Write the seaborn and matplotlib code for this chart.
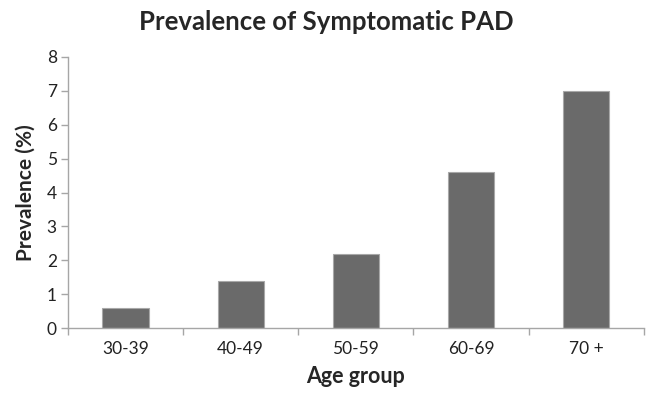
import numpy as np
import matplotlib
matplotlib.use('Agg')
import matplotlib.pyplot as plt
import pandas as pd
import seaborn as sns

age_groups = ['30-39', '40-49', '50-59', '60-69', '70 +']
prevalence = [0.6, 1.4, 2.2, 4.6, 7.0]

sns.set_style('white')
plt.rcParams['font.family'] = ['Lato', 'DejaVu Sans']

df = pd.DataFrame({'age': age_groups, 'prev': prevalence})

fig = plt.figure(figsize=(6.47, 3.93), dpi=100)
ax = fig.add_axes([0.105, 0.165, 0.89, 0.69])

sns.barplot(data=df, x='age', y='prev', color='#6a6a6a', width=0.4,
            edgecolor='#a8a8a8', linewidth=0.8, saturation=1, ax=ax)

ax.set_ylim(0, 8)
ax.set_xlim(-0.5, len(age_groups) - 0.5)
ax.set_yticks(range(0, 9))

# ticks at category boundaries, like the original
ax.set_xticks(np.arange(-0.5, len(age_groups), 1), minor=True)
ax.tick_params(axis='x', which='major', length=0, pad=9, labelsize=12.5, colors='#222222')
ax.tick_params(axis='x', which='minor', length=5, width=1, color='#a6a6a6', direction='out', bottom=True)
ax.tick_params(axis='y', length=5, width=1, color='#a6a6a6', direction='out', left=True,
               labelsize=12.5, labelcolor='#222222', pad=3)

for side in ['top', 'right']:
    ax.spines[side].set_visible(False)
for side in ['left', 'bottom']:
    ax.spines[side].set_color('#a6a6a6')
    ax.spines[side].set_linewidth(1)

ax.set_xlabel('Age group', fontsize=15.5, fontweight='bold', labelpad=7)
ax.set_ylabel('Prevalence (%)', fontsize=15, fontweight='bold', labelpad=8)
fig.suptitle('Prevalence of Symptomatic PAD', fontsize=18.5, fontweight='bold',
             x=0.505, y=0.975, va='top')

fig.savefig('out.png', dpi=100)
